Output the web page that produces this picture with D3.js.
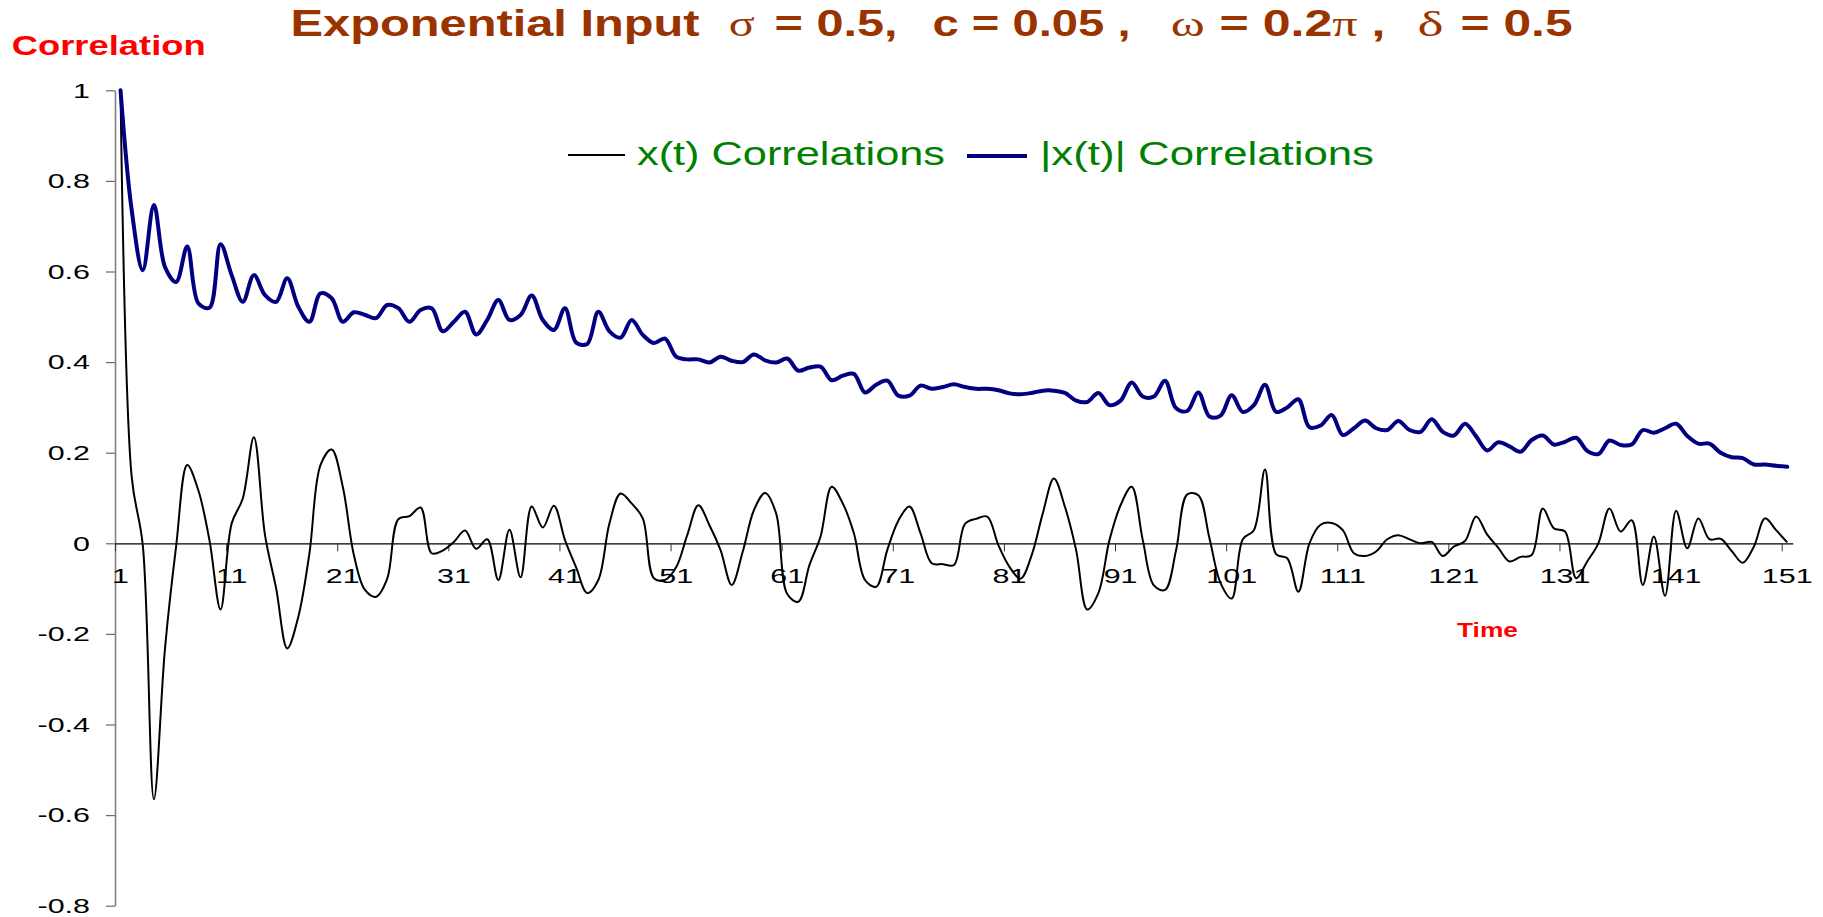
<!DOCTYPE html>
<html>
<head>
<meta charset="utf-8">
<script src="https://cdn.jsdelivr.net/npm/d3@7"></script>
<style>
  body { margin: 0; background: #fff; overflow: hidden; }
  svg { display: block; }
  text { font-family: "Liberation Sans", Arial, sans-serif; }
</style>
</head>
<body>
<svg id="chart" width="1823" height="917"></svg>
<script>
// Lags 1..151 (category axis)
const lags = d3.range(1, 152);

// Autocorrelation of x(t)
const xCorr = [
  1.000, 0.147, -0.004, -0.565, -0.232, -0.007, 0.173, 0.117, 0.007, -0.146,
  0.044, 0.099, 0.234, 0.018, -0.099, -0.232, -0.162, -0.022, 0.173, 0.207,
  0.125, -0.026, -0.103, -0.118, -0.078, 0.053, 0.060, 0.079, -0.022, -0.016,
  0.003, 0.028, -0.012, 0.009, -0.081, 0.030, -0.075, 0.081, 0.035, 0.083,
  0.007, -0.053, -0.110, -0.081, 0.044, 0.110, 0.088, 0.055, -0.077, -0.081,
  -0.053, 0.018, 0.084, 0.040, -0.015, -0.092, -0.018, 0.073, 0.111, 0.066,
  -0.112, -0.129, -0.048, 0.015, 0.125, 0.088, 0.022, -0.081, -0.096, -0.015,
  0.050, 0.081, 0.022, -0.044, -0.046, -0.048, 0.043, 0.054, 0.059, -0.004,
  -0.052, -0.078, -0.026, 0.066, 0.143, 0.080, -0.015, -0.146, -0.110, 0.007,
  0.084, 0.125, 0.007, -0.093, -0.103, -0.015, 0.108, 0.106, 0.011, -0.088,
  -0.122, 0.009, 0.029, 0.163, -0.024, -0.033, -0.107, 0.000, 0.041, 0.045,
  0.029, -0.022, -0.028, -0.018, 0.009, 0.018, 0.009, 0.000, 0.003, -0.028,
  -0.007, 0.005, 0.059, 0.019, -0.010, -0.040, -0.030, -0.026, 0.077, 0.033,
  0.026, -0.077, -0.040, 0.000, 0.077, 0.026, 0.051, -0.092, 0.015, -0.116,
  0.072, -0.011, 0.055, 0.009, 0.010, -0.017, -0.043, -0.007, 0.055, 0.029,
  0.002
];

// Autocorrelation of |x(t)|
const absCorr = [
  1.000, 0.736, 0.603, 0.747, 0.610, 0.577, 0.655, 0.530, 0.520, 0.660,
  0.592, 0.533, 0.592, 0.548, 0.533, 0.585, 0.522, 0.489, 0.552, 0.541,
  0.489, 0.510, 0.504, 0.497, 0.526, 0.519, 0.489, 0.515, 0.519, 0.468,
  0.489, 0.511, 0.461, 0.493, 0.537, 0.493, 0.504, 0.547, 0.493, 0.471,
  0.519, 0.443, 0.440, 0.511, 0.468, 0.454, 0.493, 0.460, 0.442, 0.452,
  0.412, 0.406, 0.406, 0.399, 0.412, 0.403, 0.400, 0.417, 0.404, 0.399,
  0.408, 0.381, 0.388, 0.390, 0.360, 0.370, 0.374, 0.333, 0.350, 0.359,
  0.326, 0.326, 0.348, 0.341, 0.345, 0.351, 0.345, 0.341, 0.341, 0.338,
  0.331, 0.329, 0.332, 0.337, 0.337, 0.332, 0.315, 0.312, 0.332, 0.305,
  0.315, 0.355, 0.324, 0.324, 0.359, 0.298, 0.292, 0.333, 0.280, 0.282,
  0.327, 0.290, 0.305, 0.350, 0.290, 0.300, 0.318, 0.256, 0.260, 0.283,
  0.239, 0.254, 0.271, 0.254, 0.250, 0.270, 0.250, 0.246, 0.274, 0.246,
  0.238, 0.264, 0.236, 0.205, 0.223, 0.214, 0.202, 0.228, 0.238, 0.218,
  0.224, 0.233, 0.204, 0.197, 0.227, 0.217, 0.218, 0.250, 0.244, 0.254,
  0.264, 0.237, 0.220, 0.220, 0.200, 0.190, 0.188, 0.174, 0.174, 0.171,
  0.169
];

const xTickLabels = ["1", "11", "21", "31", "41", "51", "61", "71", "81", "91",
                     "101", "111", "121", "131", "141", "151"];
const yTickValues = [1, 0.8, 0.6, 0.4, 0.2, 0, -0.2, -0.4, -0.6, -0.8];
const yTickLabels = ["1", "0.8", "0.6", "0.4", "0.2", "0", "-0.2", "-0.4", "-0.6", "-0.8"];
const seriesNames = ["x(t) Correlations", "|x(t)| Correlations"];
const seriesColors = ["#000000", "#000080"];

const svg = d3.select("#chart");

// Category axis: each lag occupies one slot, first slot starts at the value axis
const x = d3.scaleLinear().domain([0.5, 151.5]).range([115, 1792.8]);
const y = d3.scaleLinear().domain([-0.8, 1]).range([905.7, 90.3]);

// Value axis
const yAxis = svg.append("g")
  .attr("transform", "translate(115,0)")
  .call(d3.axisLeft(y).tickValues(yTickValues).tickSize(9).tickSizeOuter(0).tickFormat(""));
yAxis.select(".domain").attr("stroke", "#808080").attr("stroke-width", 1.6);
yAxis.selectAll(".tick line").attr("stroke", "#6a6a6a").attr("stroke-width", 1.2);

// Category axis along zero
const xAxis = svg.append("g")
  .attr("transform", `translate(0,${y(0)})`)
  .call(d3.axisBottom(x).tickValues(d3.range(0.5, 151, 10)).tickSize(8).tickSizeOuter(0).tickFormat(""));
xAxis.select(".domain").attr("stroke", "#000").attr("stroke-width", 1.2);
xAxis.selectAll(".tick line").attr("stroke", "#333").attr("stroke-width", 1);

// Tick labels, widened horizontally
const labelStretch = 1.45;
svg.append("g").selectAll("text")
  .data(yTickValues)
  .join("text")
  .attr("transform", d => `translate(90,${y(d) + 7.3}) scale(${labelStretch},1)`)
  .attr("text-anchor", "end")
  .attr("font-size", 21)
  .attr("fill", "#000")
  .text((d, i) => yTickLabels[i]);

svg.append("g").selectAll("text")
  .data(xTickLabels)
  .join("text")
  .attr("transform", d => `translate(${x(+d)},583) scale(${labelStretch},1)`)
  .attr("text-anchor", "middle")
  .attr("font-size", 21)
  .attr("fill", "#000")
  .text(d => d);

// Series
const line = d3.line()
  .x((d, i) => x(lags[i]))
  .y(d => y(d))
  .curve(d3.curveCatmullRom.alpha(0.5));

svg.append("path")
  .datum(xCorr)
  .attr("fill", "none")
  .attr("stroke", seriesColors[0])
  .attr("stroke-width", 2)
  .attr("stroke-linejoin", "round")
  .attr("d", line);

svg.append("path")
  .datum(absCorr)
  .attr("fill", "none")
  .attr("stroke", seriesColors[1])
  .attr("stroke-width", 4)
  .attr("stroke-linejoin", "round")
  .attr("stroke-linecap", "round")
  .attr("d", line);

// Legend
const legend = svg.append("g");
legend.append("line").attr("x1", 568).attr("x2", 625).attr("y1", 155).attr("y2", 155)
  .attr("stroke", seriesColors[0]).attr("stroke-width", 2);
legend.append("text").attr("x", 637).attr("y", 165)
  .attr("font-size", 34).attr("fill", "#008000")
  .attr("textLength", 308).attr("lengthAdjust", "spacingAndGlyphs")
  .text(seriesNames[0]);
legend.append("line").attr("x1", 967).attr("x2", 1027).attr("y1", 156).attr("y2", 156)
  .attr("stroke", seriesColors[1]).attr("stroke-width", 4);
legend.append("text").attr("x", 1040).attr("y", 165)
  .attr("font-size", 34).attr("fill", "#008000")
  .attr("textLength", 334).attr("lengthAdjust", "spacingAndGlyphs")
  .text(seriesNames[1]);

// Axis titles
svg.append("text").attr("x", 11.7).attr("y", 55)
  .attr("font-size", 27).attr("font-weight", "bold").attr("fill", "#ff0000")
  .attr("textLength", 194).attr("lengthAdjust", "spacingAndGlyphs")
  .text("Correlation");
svg.append("text").attr("x", 1457).attr("y", 637)
  .attr("font-size", 19.5).attr("font-weight", "bold").attr("fill", "#ff0000")
  .attr("textLength", 61).attr("lengthAdjust", "spacingAndGlyphs")
  .text("Time");

// Chart title, set in pieces: Latin text in bold sans, Greek symbols in serif
const titleColor = "#993300";
const titleParts = [
  { x: 290.6, w: 409, parts: [["Exponential Input", false]] },
  { x: 728.7, w: 26, parts: [["σ", true]] },
  { x: 774.6, w: 123, parts: [["= 0.5,", false]] },
  { x: 932.5, w: 198, parts: [["c = 0.05 ,", false]] },
  { x: 1170.7, w: 34, parts: [["ω", true]] },
  { x: 1219.5, w: 166, parts: [["= 0.2", false], ["π", true], [" ,", false]] },
  { x: 1417.6, w: 26, parts: [["δ", true]] },
  { x: 1460.6, w: 112, parts: [["= 0.5", false]] }
];
const title = svg.append("g").attr("fill", titleColor);
titleParts.forEach(p => {
  const t = title.append("text")
    .attr("x", p.x).attr("y", 36)
    .attr("font-size", 36)
    .attr("font-weight", "bold")
    .attr("textLength", p.w)
    .attr("lengthAdjust", "spacingAndGlyphs")
    .style("white-space", "pre");
  p.parts.forEach(([s, greek]) => {
    const ts = t.append("tspan").text(s);
    if (greek) ts.attr("font-family", "'Liberation Serif', 'DejaVu Serif', serif").attr("font-weight", "normal");
  });
});
</script>
</body>
</html>
